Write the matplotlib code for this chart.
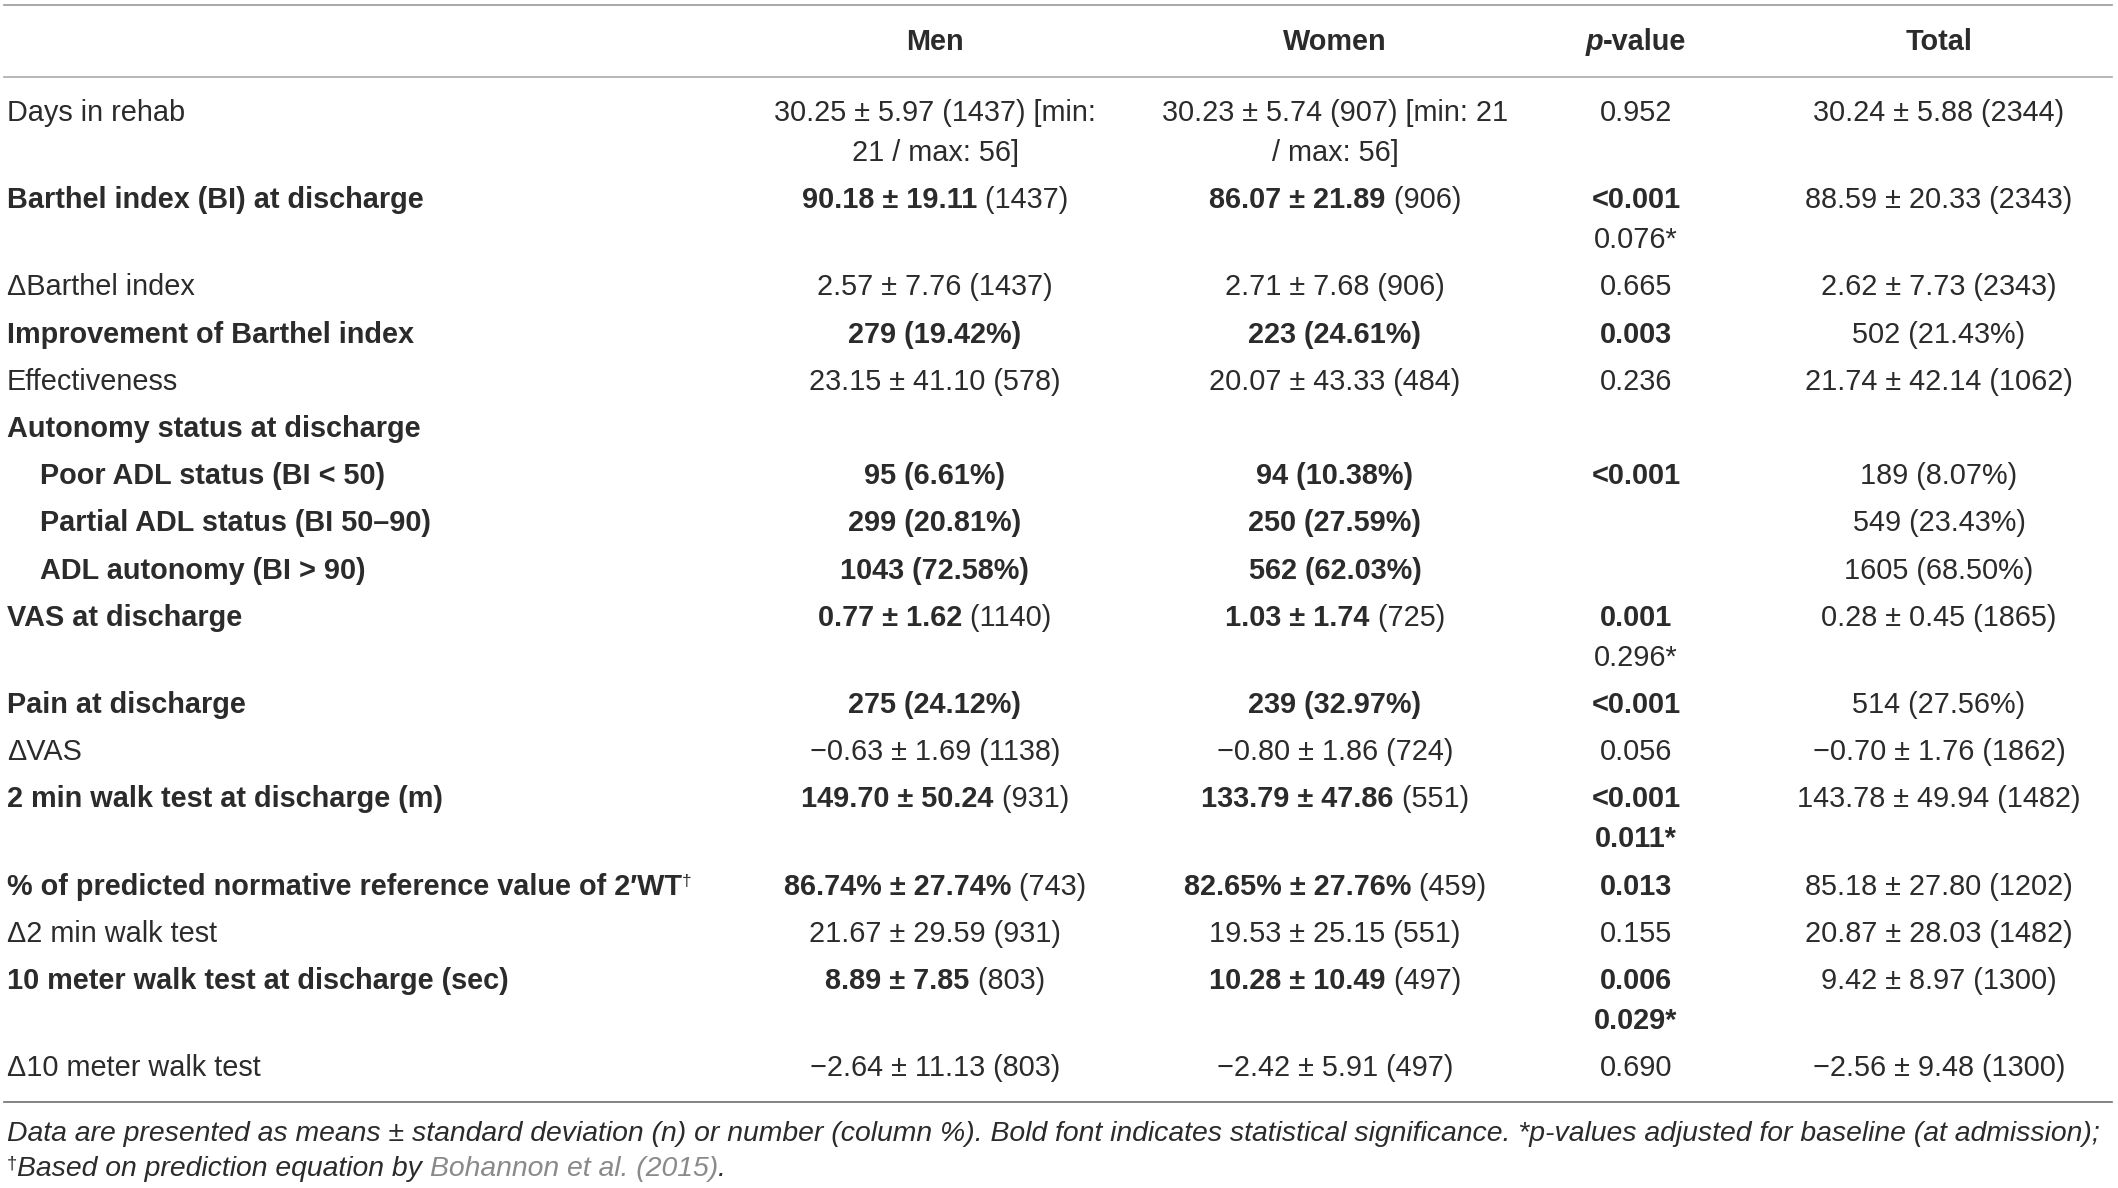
import matplotlib.pyplot as plt

plt.rcParams['font.family'] = ['Liberation Sans', 'DejaVu Sans']

# table content
labels = [
    "Days in rehab",
    "Barthel index (BI) at discharge",
    "\u0394Barthel index",
    "Improvement of Barthel index",
    "Effectiveness",
    "Autonomy status at discharge",
    "Poor ADL status (BI < 50)",
    "Partial ADL status (BI 50\u201390)",
    "ADL autonomy (BI > 90)",
    "VAS at discharge",
    "Pain at discharge",
    "\u0394VAS",
    "2 min walk test at discharge (m)",
    "% of predicted normative reference value of 2\u2032WT",
    "\u03942 min walk test",
    "10 meter walk test at discharge (sec)",
    "\u039410 meter walk test",
]
label_bold = [0, 1, 0, 1, 0, 1, 1, 1, 1, 1, 1, 0, 1, 1, 0, 1, 0]
label_indent = [0, 0, 0, 0, 0, 0, 1, 1, 1, 0, 0, 0, 0, 0, 0, 0, 0]
label_sup = ["", "", "", "", "", "", "", "", "", "", "", "", "", "\u2020", "", "", ""]

men_val = [
    "30.25 \u00b1 5.97 (1437) [min:\n21 / max: 56]", "90.18 \u00b1 19.11", "2.57 \u00b1 7.76 (1437)",
    "279 (19.42%)", "23.15 \u00b1 41.10 (578)", "", "95 (6.61%)", "299 (20.81%)", "1043 (72.58%)",
    "0.77 \u00b1 1.62", "275 (24.12%)", "\u22120.63 \u00b1 1.69 (1138)", "149.70 \u00b1 50.24",
    "86.74% \u00b1 27.74%", "21.67 \u00b1 29.59 (931)", "8.89 \u00b1 7.85", "\u22122.64 \u00b1 11.13 (803)",
]
men_n = ["", " (1437)", "", "", "", "", "", "", "", " (1140)", "", "", " (931)", " (743)", "", " (803)", ""]

women_val = [
    "30.23 \u00b1 5.74 (907) [min: 21\n/ max: 56]", "86.07 \u00b1 21.89", "2.71 \u00b1 7.68 (906)",
    "223 (24.61%)", "20.07 \u00b1 43.33 (484)", "", "94 (10.38%)", "250 (27.59%)", "562 (62.03%)",
    "1.03 \u00b1 1.74", "239 (32.97%)", "\u22120.80 \u00b1 1.86 (724)", "133.79 \u00b1 47.86",
    "82.65% \u00b1 27.76%", "19.53 \u00b1 25.15 (551)", "10.28 \u00b1 10.49", "\u22122.42 \u00b1 5.91 (497)",
]
women_n = ["", " (906)", "", "", "", "", "", "", "", " (725)", "", "", " (551)", " (459)", "", " (497)", ""]

p_value = ["0.952", "<0.001", "0.665", "0.003", "0.236", "", "<0.001", "", "", "0.001",
           "<0.001", "0.056", "<0.001", "0.013", "0.155", "0.006", "0.690"]
p_bold = [0, 1, 0, 1, 0, 0, 1, 0, 0, 1, 1, 0, 1, 1, 0, 1, 0]
p_adjusted = ["", "0.076*", "", "", "", "", "", "", "", "0.296*", "", "", "0.011*", "", "", "0.029*", ""]
p_adj_bold = [0, 0, 0, 0, 0, 0, 0, 0, 0, 0, 0, 0, 1, 0, 0, 1, 0]

total = [
    "30.24 \u00b1 5.88 (2344)", "88.59 \u00b1 20.33 (2343)", "2.62 \u00b1 7.73 (2343)", "502 (21.43%)",
    "21.74 \u00b1 42.14 (1062)", "", "189 (8.07%)", "549 (23.43%)", "1605 (68.50%)",
    "0.28 \u00b1 0.45 (1865)", "514 (27.56%)", "\u22120.70 \u00b1 1.76 (1862)", "143.78 \u00b1 49.94 (1482)",
    "85.18 \u00b1 27.80 (1202)", "20.87 \u00b1 28.03 (1482)", "9.42 \u00b1 8.97 (1300)", "\u22122.56 \u00b1 9.48 (1300)",
]

note1 = ("Data are presented as means \u00b1 standard deviation (n) or number (column %). "
         "Bold font indicates statistical significance. *p-values adjusted for baseline (at admission);")
note2 = ["\u2020", "Based on prediction equation by ", "Bohannon et al. (2015)", "."]

# layout
W, H = 2118, 1188
FS = 20.8
DARK = "#2b2b2b"
col_x = [935, 1335, 1636, 1939]
row_step = 47.2
line_step = 40

fig = plt.figure(figsize=(W / 100, H / 100), dpi=100)
ax = fig.add_axes([0, 0, 1, 1])
ax.set_xlim(0, W)
ax.set_ylim(H, 0)
ax.axis("off")
renderer = fig.canvas.get_renderer()


def draw_parts(x, y, parts, ha="center"):
    # parts: (text, weight, style, size, dy, color)
    texts, widths = [], []
    for s, wt, st, sz, dy, c in parts:
        t = ax.text(0, y - dy, s, fontsize=sz, fontweight=wt, fontstyle=st,
                    color=c, va="baseline", ha="left")
        widths.append(t.get_window_extent(renderer).width)
        texts.append(t)
    start = x - sum(widths) / 2 if ha == "center" else x
    for t, w in zip(texts, widths):
        t.set_x(start)
        start += w


def cell(x, y, main, bold, extra=""):
    lines = main.split("\n")
    for k, ln in enumerate(lines):
        parts = [(ln, "bold" if bold else "normal", "normal", FS, 0, DARK)]
        if extra and k == len(lines) - 1:
            parts.append((extra, "normal", "normal", FS, 0, DARK))
        draw_parts(x, y + k * line_step, parts)


# rules
ax.plot([4, 2112], [5, 5], color="#9a9a9a", lw=1.2)
ax.plot([4, 2112], [77, 77], color="#aaaaaa", lw=1.2)
ax.plot([4, 2112], [1102, 1102], color="#6e6e6e", lw=1.2)

# header
hy = 50
draw_parts(col_x[0], hy, [("Men", "bold", "normal", FS, 0, DARK)])
draw_parts(col_x[1], hy, [("Women", "bold", "normal", FS, 0, DARK)])
draw_parts(col_x[2], hy, [("p", "bold", "italic", FS, 0, DARK), ("-value", "bold", "normal", FS, 0, DARK)])
draw_parts(col_x[3], hy, [("Total", "bold", "normal", FS, 0, DARK)])

y = 121
for i in range(len(labels)):
    lx = 40 if label_indent[i] else 7
    parts = [(labels[i], "bold" if label_bold[i] else "normal", "normal", FS, 0, DARK)]
    if label_sup[i]:
        parts.append((label_sup[i], "normal", "normal", FS * 0.6, 9, DARK))
    draw_parts(lx, y, parts, ha="left")

    cell(col_x[0], y, men_val[i], label_bold[i], men_n[i])
    cell(col_x[1], y, women_val[i], label_bold[i], women_n[i])
    if p_value[i]:
        cell(col_x[2], y, p_value[i], p_bold[i])
    if p_adjusted[i]:
        cell(col_x[2], y + line_step, p_adjusted[i], p_adj_bold[i])
    cell(col_x[3], y, total[i], False)

    n_lines = max(len(men_val[i].split("\n")), len(women_val[i].split("\n")), 2 if p_adjusted[i] else 1)
    y += row_step + line_step * (n_lines - 1)

# footnote
NFS = 20.4
draw_parts(7, 1141, [(note1, "normal", "italic", NFS, 0, DARK)], ha="left")
draw_parts(7, 1176, [(note2[0], "normal", "normal", NFS * 0.65, 8, DARK),
                     (note2[1], "normal", "italic", NFS, 0, DARK),
                     (note2[2], "normal", "italic", NFS, 0, "#8a8a8a"),
                     (note2[3], "normal", "italic", NFS, 0, DARK)], ha="left")

fig.savefig("out.png", dpi=100)
